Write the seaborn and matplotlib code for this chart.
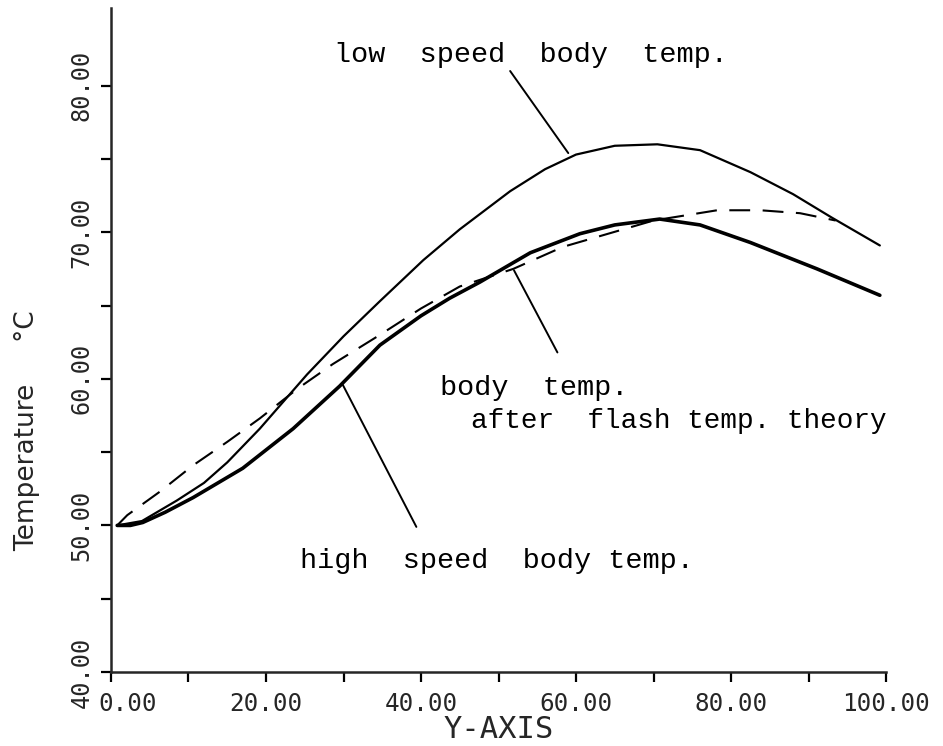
import matplotlib
matplotlib.use("Agg")
import matplotlib.pyplot as plt
import matplotlib.transforms as mtransforms
import seaborn as sns
import pandas as pd

# estilo simples, fundo branco
sns.set_theme(style="ticks")
plt.rcParams["font.family"] = ["DejaVu Sans"]

# ===== dados =====
low_x = [0.8, 4.0, 8.5, 12.0, 15.0, 19.2, 25.3, 30.0, 34.7, 40.3, 45.0, 51.5, 56.0, 60.0,
         65.0, 70.5, 76.0, 82.5, 88.0, 93.0, 99.2]
low_y = [50.0, 50.3, 51.7, 52.9, 54.3, 56.6, 60.3, 62.9, 65.3, 68.1, 70.2, 72.8, 74.3, 75.3,
         75.9, 76.0, 75.6, 74.1, 72.6, 71.0, 69.1]

high_x = [0.8, 2.5, 4.1, 7.0, 10.6, 17.0, 23.5, 29.5, 34.7, 40.0, 43.7, 47.6, 54.1, 60.5,
          65.0, 70.8, 76.0, 82.5, 91.1, 99.2]
high_y = [50.0, 50.0, 50.2, 50.9, 51.9, 53.9, 56.6, 59.5, 62.3, 64.3, 65.5, 66.6, 68.6, 69.9,
          70.5, 70.9, 70.5, 69.3, 67.5, 65.7]

flash_x = [0.8, 2.1, 6.3, 10.6, 15.0, 19.2, 24.0, 28.6, 34.7, 40.0, 45.0, 51.9, 58.3,
           64.8, 70.0, 78.2, 83.8, 88.9, 93.5]
flash_y = [50.0, 50.7, 52.3, 54.1, 55.7, 57.3, 59.3, 61.0, 63.0, 64.8, 66.3, 67.5, 69.0,
           70.0, 70.8, 71.5, 71.5, 71.3, 70.8]

x_ticks_major = [0, 20, 40, 60, 80, 100]
x_ticks_minor = [10, 30, 50, 70, 90]
y_ticks_major = [40, 50, 60, 70, 80]
y_ticks_minor = [45, 55, 65, 75]

# textos das curvas: (texto, x, y, tamanho) e linhas de chamada (x0, y0, x1, y1)
labels = [
    ("low  speed  body  temp.", 28.8, 82.1, 20.5),
    ("body  temp.", 42.4, 59.4, 20.5),
    ("after  flash temp. theory", 46.5, 57.1, 20),
    ("high  speed  body temp.", 24.4, 47.6, 20.5),
]
leaders = [
    (51.5, 81.0, 59.0, 75.4),
    (52.0, 67.4, 57.6, 61.8),
    (29.9, 59.6, 39.4, 49.9),
]

df_low = pd.DataFrame({"x": low_x, "y": low_y})
df_high = pd.DataFrame({"x": high_x, "y": high_y})
df_flash = pd.DataFrame({"x": flash_x, "y": flash_y})

fig = plt.figure(figsize=(9.43, 7.46), dpi=100)
ax = fig.add_axes([0.1177, 0.0992, 0.8219, 0.8901])

sns.lineplot(data=df_low, x="x", y="y", color="black", linewidth=1.6,
             sort=False, estimator=None, ax=ax)
sns.lineplot(data=df_high, x="x", y="y", color="black", linewidth=2.6,
             sort=False, estimator=None, ax=ax)
sns.lineplot(data=df_flash, x="x", y="y", color="black", linewidth=1.5,
             sort=False, estimator=None, dashes=False, ax=ax)
ax.lines[-1].set_dashes((10, 6))

# linhas de chamada
for x0, y0, x1, y1 in leaders:
    ax.plot([x0, x1], [y0, y1], color="black", linewidth=1.4)

for txt, tx, ty, fs in labels:
    ax.text(tx, ty, txt, fontsize=fs, family="Liberation Mono",
            ha="left", va="center", color="black")

ax.set_xlim(0, 100)
ax.set_ylim(40, 85.3)
ax.spines["top"].set_visible(False)
ax.spines["right"].set_visible(False)
ax.spines["left"].set_linewidth(1.8)
ax.spines["bottom"].set_linewidth(1.8)

ax.set_xticks(x_ticks_major)
ax.set_xticks(x_ticks_minor, minor=True)
ax.set_yticks(y_ticks_major)
ax.set_yticks(y_ticks_minor, minor=True)
ax.set_xticklabels([f"{v:.2f}" for v in x_ticks_major], family="DejaVu Sans Mono", fontsize=17.5)
ax.set_yticklabels([f"{v:.2f}" for v in y_ticks_major], family="DejaVu Sans Mono", fontsize=17)
for lab in ax.get_yticklabels():
    lab.set_rotation(90)
    lab.set_va("center")
ax.tick_params(which="both", direction="out", length=7.5, width=1.6, color="black")
ax.tick_params(axis="x", which="major", pad=7)
ax.tick_params(axis="y", which="major", pad=5)

# "0.00" fica um pouco à direita, como no original
first = ax.get_xticklabels()[0]
first.set_transform(first.get_transform() + mtransforms.ScaledTranslation(12 / 72, 0, fig.dpi_scale_trans))

ax.set_xlabel("Y-AXIS", family="DejaVu Sans Mono", fontsize=22, labelpad=-1)
ax.set_ylabel("Temperature     °C", family="DejaVu Sans", fontsize=19)
ax.yaxis.set_label_coords(-0.092, 0.363)

fig.savefig("out.png", dpi=100, facecolor="white")
